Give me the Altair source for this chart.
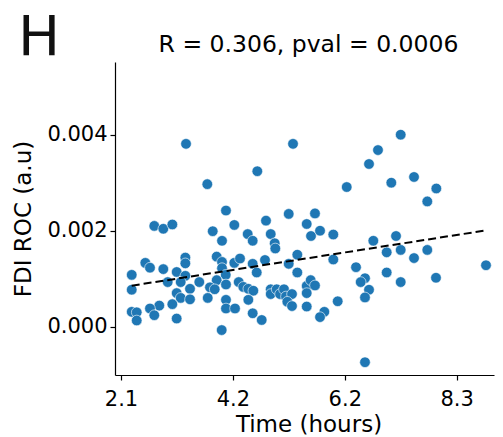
import altair as alt
import pandas as pd

time_hours = [
    3.294, 5.286, 4.621, 3.690, 4.038, 5.206, 7.291, 6.868, 6.701, 6.286,
    7.116, 7.539, 7.954, 7.786, 5.695, 2.703, 2.871, 3.039, 4.193, 4.783,
    5.541, 3.791, 3.964, 4.442, 4.535, 4.871, 4.945, 4.956, 2.536, 2.623,
    2.871, 2.283, 3.281, 3.281, 3.120, 3.281, 2.953, 3.195, 3.865, 3.964,
    3.964, 4.193, 4.299, 4.535, 4.610, 4.764, 5.366, 5.206, 5.366, 4.033,
    3.865, 4.038, 3.541, 3.368, 3.740, 3.828, 3.698, 2.283, 3.120, 3.195,
    3.368, 3.039, 2.796, 2.623, 2.703, 2.283, 2.376, 2.376, 3.120, 4.038,
    4.038, 4.206, 4.275, 4.360, 4.454, 4.547, 4.454, 4.535, 4.703, 4.871,
    4.871, 4.982, 5.044, 5.118, 5.155, 5.267, 5.180, 5.267, 5.541, 5.541,
    5.541, 3.958, 5.621, 5.789, 6.036, 6.036, 6.781, 7.204, 7.030, 7.291,
    7.539, 7.786, 8.879, 6.459, 6.626, 6.546, 7.030, 7.291, 7.948, 5.615,
    5.695, 5.869, 5.789, 6.118, 6.701, 6.626, 6.626,
]

fdi_roc = [
    0.00381, 0.00381, 0.00324, 0.00297, 0.00242, 0.00235, 0.00400, 0.00368, 0.00339, 0.00291,
    0.00300, 0.00312, 0.00288, 0.00261, 0.00236, 0.00210, 0.00204, 0.00213, 0.00212, 0.00221,
    0.00214, 0.00199, 0.00179, 0.00193, 0.00179, 0.00193, 0.00174, 0.00163, 0.00133, 0.00123,
    0.00120, 0.00108, 0.00144, 0.00132, 0.00114, 0.00106, 0.00093, 0.00093, 0.00146, 0.00135,
    0.00122, 0.00133, 0.00142, 0.00131, 0.00113, 0.00139, 0.00150, 0.00131, 0.00113, 0.00108,
    0.00097, 0.00088, 0.00093, 0.00079, 0.00082, 0.00078, 0.00060, 0.00077, 0.00070, 0.00060,
    0.00057, 0.00047, 0.00044, 0.00038, 0.00024, 0.00031, 0.00030, 0.00013, 0.00017, 0.00056,
    0.00038, 0.00038, 0.00093, 0.00083, 0.00079, 0.00075, 0.00056, 0.00028, 0.00014, 0.00078,
    0.00068, 0.00078, 0.00068, 0.00078, 0.00063, 0.00068, 0.00052, 0.00043, 0.00085, 0.00070,
    0.00042, -0.00007, 0.00189, 0.00200, 0.00192, 0.00140, 0.00179, 0.00189, 0.00155, 0.00160,
    0.00143, 0.00160, 0.00128, 0.00124, 0.00101, 0.00093, 0.00113, 0.00093, 0.00102, 0.00097,
    0.00086, 0.00031, 0.00020, 0.00053, 0.00077, 0.00061, -0.00074,
]

x_tick_values = [125 / 60, 250 / 60, 375 / 60, 500 / 60]
x_tick_labels = ["2.1", "4.2", "6.2", "8.3"]
y_tick_values = [0.0, 0.002, 0.004]

panel_letter = "H"
title_text = "R = 0.306, pval = 0.0006"

df = pd.DataFrame({"time": time_hours, "fdi": fdi_roc})

FONT = "DejaVu Sans"
label_expr = "[" + ",".join("'%s'" % s for s in x_tick_labels) + "][round(datum.value*60/125)-1]"

x_enc = alt.X(
    "time:Q",
    scale=alt.Scale(domain=[1.9716, 9.028], nice=False, zero=False),
    axis=alt.Axis(
        values=x_tick_values,
        labelExpr=label_expr,
        title="Time (hours)",
        grid=False,
        tickSize=5,
        tickColor="black",
        tickWidth=1.2,
        domainColor="black",
        domainWidth=1.2,
        labelFont=FONT,
        labelFontSize=21,
        labelColor="black",
        labelBaseline="alphabetic",
        labelPadding=25,
        titleFont=FONT,
        titleFontSize=23,
        titleFontWeight="normal",
        titleColor="black",
        titleX=193.5,
        titleY=56,
        titleBaseline="alphabetic",
        titleAlign="center",
    ),
)

y_enc = alt.Y(
    "fdi:Q",
    scale=alt.Scale(domain=[-0.001006, 0.005515], nice=False, zero=False),
    axis=alt.Axis(
        values=y_tick_values,
        format=".3f",
        title="FDI ROC (a.u)",
        grid=False,
        tickSize=5,
        tickColor="black",
        tickWidth=1.2,
        domainColor="black",
        domainWidth=1.2,
        labelFont=FONT,
        labelFontSize=21,
        labelColor="black",
        labelPadding=3,
        titleFont=FONT,
        titleFontSize=23,
        titleFontWeight="normal",
        titleColor="black",
        titleX=-85,
        titleY=156.5,
        titleAngle=270,
        titleBaseline="alphabetic",
        titleAlign="center",
    ),
)

base = alt.Chart(df)

points = base.mark_circle(
    size=113, color="#1f77b4", opacity=1, stroke="white", strokeWidth=0.6
).encode(x=x_enc, y=y_enc)

line = base.transform_regression("time", "fdi").mark_line(
    color="black", strokeDash=[8, 4], strokeWidth=2
).encode(x="time:Q", y="fdi:Q")

letter = alt.Chart(pd.DataFrame({"t": [panel_letter]})).mark_text(
    font=FONT, fontSize=56, color="#111111", align="left", baseline="alphabetic"
).encode(text="t:N", x=alt.value(-97), y=alt.value(-7))

title = alt.Chart(pd.DataFrame({"t": [title_text]})).mark_text(
    font=FONT, fontSize=23.5, color="black", align="center", baseline="alphabetic"
).encode(text="t:N", x=alt.value(193.5), y=alt.value(-10))

chart = alt.layer(points, line, letter, title).properties(
    width=379,
    height=313,
    padding={"left": 107, "top": 54, "right": 1, "bottom": 60},
    autosize=alt.AutoSizeParams(type="none"),
).configure_view(stroke=None)

chart.save("out.html", embed_options={"renderer": "svg", "actions": False})
